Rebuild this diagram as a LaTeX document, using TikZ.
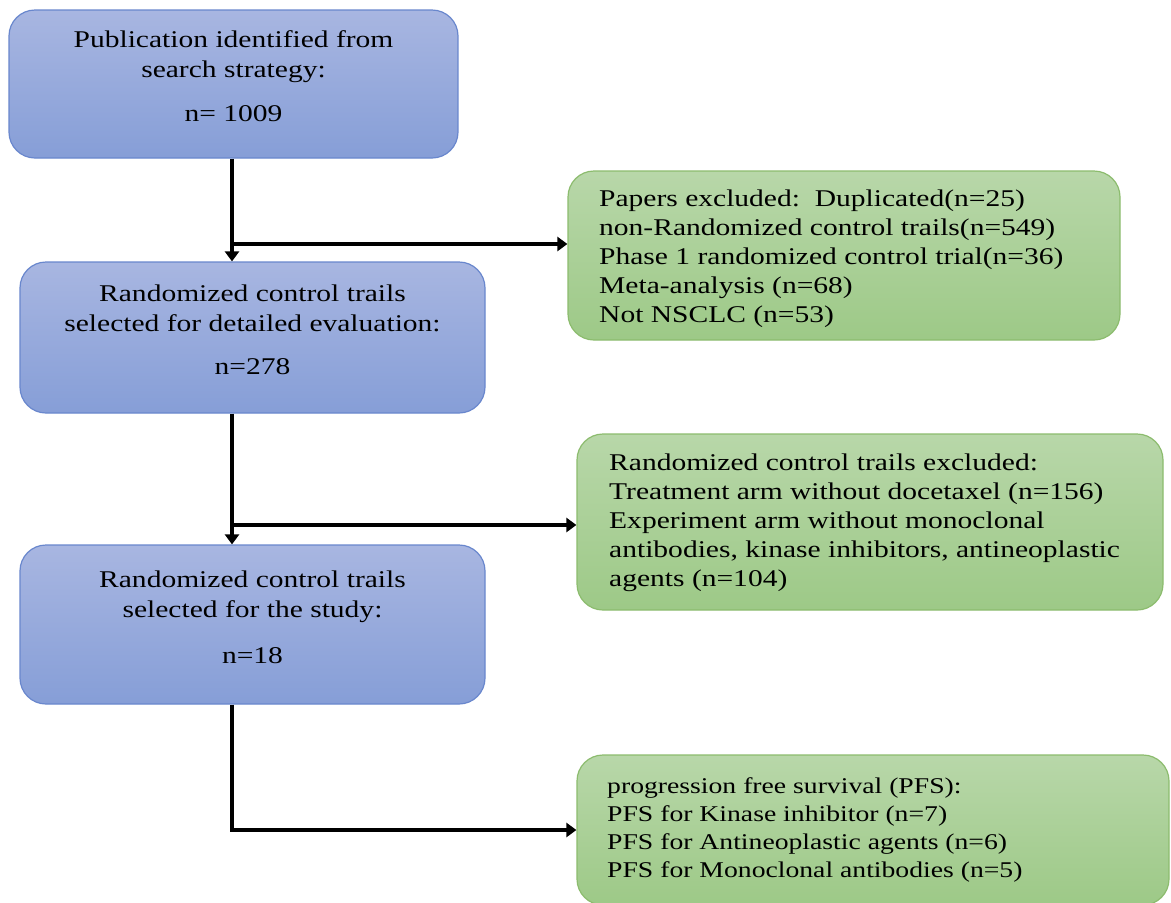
\documentclass[tikz,border=0pt]{standalone}
\usepackage{fontspec}
\setmainfont{Liberation Serif}[FakeStretch=1.23]
\usetikzlibrary{arrows.meta}
\definecolor{bluetop}{RGB}{168,182,225}
\definecolor{bluebot}{RGB}{134,158,215}
\definecolor{blueedge}{RGB}{105,135,205}
\definecolor{greentop}{RGB}{184,215,169}
\definecolor{greenbot}{RGB}{157,201,135}
\definecolor{greenedge}{RGB}{140,188,110}
\begin{document}
\begin{tikzpicture}[x=1pt,y=-1pt,
  bluebox/.style={draw=blueedge, line width=1.2pt, rounded corners=26pt, top color=bluetop, bottom color=bluebot, inner sep=0pt},
  greenbox/.style={draw=greenedge, line width=1.2pt, rounded corners=26pt, top color=greentop, bottom color=greenbot, inner sep=0pt},
  ctxt/.style={inner sep=0pt, align=center, font=\fontsize{24}{30}\selectfont},
  ltxt/.style={inner sep=0pt, align=left, anchor=west, font=\fontsize{24}{29}\selectfont},
  arr/.style={line width=3.3pt, -{Triangle[length=10pt,width=14pt]}}
]
\path[fill=white, use as bounding box] (0,0) rectangle (1171,903);
\clip (0,0) rectangle (1171,903);

% blue boxes
\node[bluebox, minimum width=449pt, minimum height=148pt] (A) at (233.5,84) {};
\node[bluebox, minimum width=465pt, minimum height=151pt] (B) at (252.5,337.5) {};
\node[bluebox, minimum width=465pt, minimum height=159pt] (C) at (252.5,624.5) {};

\node[ctxt] (At) at (233.5,76) {Publication identified from\\search strategy:\\[14pt]n= 1009};
\node[ctxt] (Bt) at (252.5,330) {Randomized control trails\\selected for detailed evaluation:\\[13pt]n=278};
\node[ctxt] (Ct) at (252.5,617) {Randomized control trails\\selected for the study:\\[16pt]n=18};

% green boxes
\node[greenbox, minimum width=552pt, minimum height=169pt] (G1) at (844,255.5) {};
\node[greenbox, minimum width=586pt, minimum height=176pt] (G2) at (870,522) {};
\node[greenbox, minimum width=592pt, minimum height=150pt] (G3) at (873,830) {};

\node[ltxt] (G1t) at (599,258.5) {Papers excluded:\ \ Duplicated(n=25)\\non-Randomized control trails(n=549)\\Phase 1 randomized control trial(n=36)\\Meta-analysis (n=68)\\Not NSCLC (n=53)};
\node[ltxt] (G2t) at (609,522.5) {Randomized control trails excluded:\\Treatment arm without docetaxel (n=156)\\Experiment arm without monoclonal\\antibodies, kinase inhibitors, antineoplastic\\agents (n=104)};
\node[ltxt, font=\fontsize{22.5}{28}\selectfont] (G3t) at (607,830) {progression free survival (PFS):\\PFS for Kinase inhibitor (n=7)\\PFS for Antineoplastic agents (n=6)\\PFS for Monoclonal antibodies (n=5)};

% connectors
\coordinate (s1) at (232,244);
\coordinate (s2) at (232,525);
\coordinate (s3) at (232,830);
\draw[arr] (A.south -| s1) -- (B.north -| s1);
\draw[arr] (s1) -- (s1 -| G1.west);
\draw[arr] (B.south -| s2) -- (C.north -| s2);
\draw[arr] (s2) -- (s2 -| G2.west);
\draw[arr] (C.south -| s3) -- (s3) -- (s3 -| G3.west);
\end{tikzpicture}
\end{document}
